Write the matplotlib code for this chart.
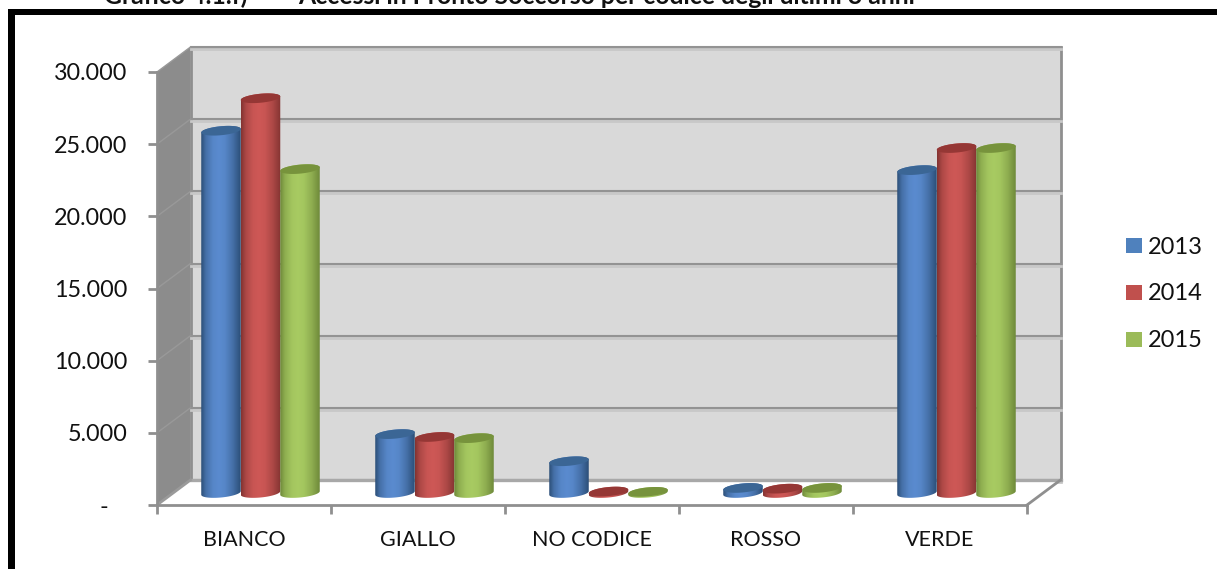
import matplotlib
matplotlib.use("Agg")
import matplotlib.pyplot as plt
import numpy as np
from matplotlib.patches import Patch, PathPatch, Polygon, Rectangle
from matplotlib.path import Path

W, H = 1217, 569

categories = ["BIANCO", "GIALLO", "NO CODICE", "ROSSO", "VERDE"]
years = ["2013", "2014", "2015"]
values_2013 = [25100, 4080, 2200, 350, 22370]
values_2014 = [27350, 3880, 100, 300, 23900]
values_2015 = [22440, 3800, 80, 350, 23900]
y_ticks = [0, 5000, 10000, 15000, 20000, 25000, 30000]
y_labels = ["-   ", "5.000", "10.000", "15.000", "20.000", "25.000", "30.000"]

edge_cols = ["#2c4f78", "#843432", "#6f8a3a"]
mid_cols = ["#5a8bcf", "#ce5856", "#a8cb62"]
top_cols = ["#3b6695", "#953735", "#77933c"]
leg_cols = ["#4f81bd", "#c0504d", "#9bbb59"]

plt.rcParams['font.family'] = ['Lato', 'DejaVu Sans']

fig = plt.figure(figsize=(W / 100, H / 100), dpi=100)
ax = fig.add_axes([157 / W, 1 - 505 / H, 870 / W, 433 / H])
ax.set_xlim(-0.5, 4.5)
ax.set_ylim(0, 30000)
ax.patch.set_visible(False)

# pixel -> data conversion for the fake 3D depth
ux = 5 / 870
uy = 30000 / 433
dx = 33.5 * ux
dy = 25 * uy
x0, x1 = -0.5, 4.5


def shade(c1, c2):
    a = np.array(matplotlib.colors.to_rgb(c1))
    b = np.array(matplotlib.colors.to_rgb(c2))
    t = np.array([0, .12, .3, .45, .6, .8, 1.0])
    k = np.array([0, .55, .92, 1, .92, .55, 0])
    xs = np.linspace(0, 1, 60)
    kk = np.interp(xs, t, k)
    return (a + (b - a) * kk[:, None])[None, :, :]


# walls
ax.add_patch(Polygon([(x0, 0), (x0 + dx, dy), (x0 + dx, 30000 + dy), (x0, 30000)],
                     fc="#8c8c8c", ec="none", clip_on=False, zorder=1))
ax.add_patch(Rectangle((x0 + dx, dy), x1 - x0, 30000, fc="#d9d9d9", ec="#8f8f8f",
                       lw=2, clip_on=False, zorder=1))
for v in y_ticks:
    ax.plot([x0 + dx, x1 + dx], [v + dy - 2 * uy, v + dy - 2 * uy], color="#c8c8c8",
            lw=2, clip_on=False, zorder=1.5)
    ax.plot([x0 + dx, x1 + dx], [v + dy, v + dy], color="#939393", lw=1.5,
            clip_on=False, zorder=2)
    ax.plot([x0, x0 + dx], [v, v + dy], color="#999999", lw=1,
            clip_on=False, zorder=2)
ax.add_patch(Polygon([(x0, 0), (x1, 0), (x1 + dx, dy), (x0 + dx, dy)], fc="white",
                     ec="none", clip_on=False, zorder=2.5))
ax.plot([x0 + dx, x1 + dx], [dy, dy], color="#a8a8a8", lw=2.4, clip_on=False, zorder=2.6)
ax.plot([x0, x0 + dx], [0, dy], color="#9a9a9a", lw=2, clip_on=False, zorder=2.6)
ax.plot([x1, x1 + dx], [0, dy], color="#8f8f8f", lw=2, clip_on=False, zorder=2.6)

# cylinders
bar_w = 39.5 * ux
off_x = 16.5 * ux
off_y = 12 * uy
rx = bar_w / 2
ry = 4.5 * uy
tilt = 1.8 * uy / rx
tt = np.linspace(0, 2 * np.pi, 60)
z = 3.0
for s, vals in enumerate([values_2013, values_2014, values_2015]):
    for i, v in enumerate(vals):
        cx = i + off_x + (s - 1) * bar_w
        ell_x = cx + rx * np.cos(tt)
        ell_off = ry * np.sin(tt) + tilt * rx * np.cos(tt)
        # body outline: bottom half of the base ellipse, then up and over the top
        low = np.linspace(np.pi, 2 * np.pi, 30)
        bx = cx + rx * np.cos(low)
        by = off_y + ry * np.sin(low) + tilt * rx * np.cos(low)
        up = np.linspace(0, np.pi, 30)
        tx = cx + rx * np.cos(up)
        ty = off_y + v + ry * np.sin(up) + tilt * rx * np.cos(up)
        verts = np.column_stack([np.r_[bx, tx], np.r_[by, ty]])
        body = PathPatch(Path(np.vstack([verts, verts[0]])), fc="none", ec="none",
                         clip_on=False, zorder=z)
        ax.add_patch(body)
        im = ax.imshow(shade(edge_cols[s], mid_cols[s]), aspect="auto", zorder=z,
                       extent=(cx - rx, cx + rx, 0, off_y + v + 2 * ry),
                       interpolation="bilinear")
        im.set_clip_path(body)
        ax.fill(ell_x, off_y + v + ell_off, color=top_cols[s], lw=0, clip_on=False,
                zorder=z + 0.01)
        z += 0.1

ax.set_xlim(-0.5, 4.5)
ax.set_ylim(0, 30000)

# axes
for name in ["top", "right"]:
    ax.spines[name].set_visible(False)
for name in ["left", "bottom"]:
    ax.spines[name].set_color("#8f8f8f")
    ax.spines[name].set_linewidth(2)
    ax.spines[name].set_zorder(2.7)
ax.set_yticks(y_ticks)
ax.set_yticklabels(y_labels, fontsize=16.8, color="#111111")
ax.tick_params(axis="y", length=6.5, width=2, color="#8f8f8f", pad=15)
ax.set_xticks(np.arange(-0.5, 5, 1))
ax.set_xticklabels([])
ax.tick_params(axis="x", which="major", length=6.5, width=2, color="#8f8f8f")
ax.set_xticks(np.arange(5), minor=True)
ax.set_xticklabels(categories, minor=True, fontsize=15.5, color="#111111")
ax.tick_params(axis="x", which="minor", length=0, pad=18)

handles = [Patch(fc=c, ec="none", label=y) for c, y in zip(leg_cols, years)]
fig.legend(handles=handles, loc="center left", bbox_to_anchor=(1105 / W, 1 - 294 / H),
           frameon=False, fontsize=17, labelspacing=1.1, handlelength=0.68,
           handleheight=0.6, handletextpad=0.25, labelcolor="#111111")

# black frame of the scanned page, open on the right and at the bottom
fig.add_artist(Rectangle((8 / W, 0), 7 / W, 1 - 9 / H, transform=fig.transFigure,
                         fc="black", ec="none"))
fig.add_artist(Rectangle((8 / W, 1 - 15 / H), 1 - 8 / W, 6 / H, transform=fig.transFigure,
                         fc="black", ec="none"))

# title, cut by the top edge in the original
fig.text(104 / W, 1 - 4 / H, "Grafico 4.1.f)", fontsize=17.8, fontweight="bold",
         va="baseline", color="#111111")
fig.text(298 / W, 1 - 4 / H, "Accessi in Pronto Soccorso per codice degli ultimi 3 anni",
         fontsize=17.8, fontweight="bold", va="baseline", color="#111111")

fig.savefig("out.png", dpi=100)
